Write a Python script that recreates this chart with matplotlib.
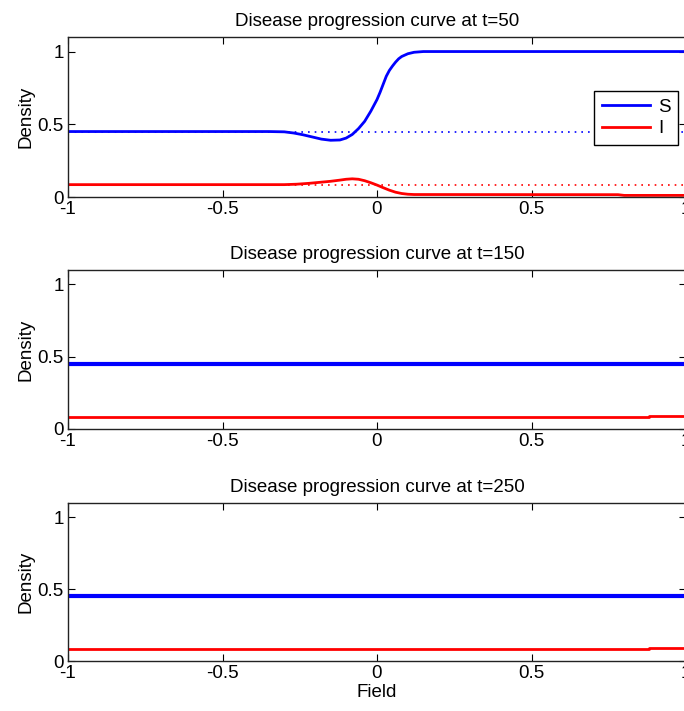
import numpy as np
import matplotlib
matplotlib.use('Agg')
import matplotlib.pyplot as plt

plt.rcParams['font.family'] = ['Liberation Sans', 'DejaVu Sans']
plt.rcParams['font.size'] = 13

# t=50 profile
x50_S = [-1, -0.35, -0.3, -0.27, -0.24, -0.21, -0.18, -0.15, -0.12, -0.1,
         -0.08, -0.06, -0.04, -0.02, 0, 0.01, 0.02, 0.03, 0.04, 0.05, 0.06,
         0.07, 0.08, 0.1, 0.12, 0.15, 1]
S50 = [0.45, 0.45, 0.448, 0.44, 0.428, 0.413, 0.398, 0.39, 0.392, 0.405,
       0.43, 0.47, 0.52, 0.59, 0.67, 0.72, 0.775, 0.83, 0.87, 0.9, 0.927,
       0.95, 0.966, 0.985, 0.995, 1.0, 1.0]
x50_I = [-1, -0.3, -0.26, -0.22, -0.18, -0.15, -0.12, -0.1, -0.08, -0.06,
         -0.04, -0.02, 0, 0.02, 0.04, 0.06, 0.08, 0.1, 0.12, 0.78, 0.8, 1]
I50 = [0.085, 0.085, 0.088, 0.094, 0.102, 0.108, 0.116, 0.122, 0.125, 0.122,
       0.112, 0.098, 0.082, 0.064, 0.047, 0.033, 0.024, 0.019, 0.017, 0.016,
       0.011, 0.011]

# t=150 and t=250 are flat
x_flat = [-1, 0.88, 0.88, 1]
S_flat = [0.45, 0.45, 0.45, 0.45]
I_flat = [0.082, 0.082, 0.09, 0.09]

S_eq = 0.45
I_eq = 0.085

times = [50, 150, 250]

fig = plt.figure(figsize=(6.84, 7.11), dpi=100)
left = 68/684
width = 618/684
boxes = [(37, 197), (270, 429), (503, 661)]

axs = []
for (top, bot) in boxes:
    ax = fig.add_axes([left, 1-bot/711, width, (bot-top)/711])
    axs.append(ax)

for i, ax in enumerate(axs):
    if i == 0:
        ax.plot([-1, 1], [S_eq, S_eq], color='blue', lw=1.2, linestyle=(0, (1, 3)))
        ax.plot([-1, 1], [I_eq, I_eq], color='red', lw=1.2, linestyle=(0, (1, 3)))
        ax.plot(x50_S, S50, color='blue', lw=2, label='S')
        ax.plot(x50_I, I50, color='red', lw=2, label='I')
        leg = ax.legend(loc='upper right', bbox_to_anchor=(0.987, 0.6625),
                        borderaxespad=0, fancybox=False, framealpha=1,
                        edgecolor='black', handlelength=2.6, fontsize=13.5,
                        borderpad=0.4, labelspacing=0.25, handletextpad=0.4)
        leg.get_frame().set_linewidth(1)
    else:
        ax.plot(x_flat, S_flat, color='blue', lw=3)
        ax.plot(x_flat, I_flat, color='red', lw=2)
    ax.set_xlim(-1, 1)
    ax.set_ylim(0, 1.1)
    ax.set_xticks([-1, -0.5, 0, 0.5, 1])
    ax.set_xticklabels(['-1', '-0.5', '0', '0.5', '1'])
    ax.set_yticks([0, 0.5, 1])
    ax.set_yticklabels(['0', '0.5', '1'])
    ax.tick_params(direction='in', top=True, right=True, length=5, width=0.8,
                   labelsize=13.5, pad=3)
    for sp in ax.spines.values():
        sp.set_linewidth(1)
        sp.set_color('#222222')
    ax.set_title('Disease progression curve at t=%d' % times[i], fontsize=13.5, pad=8)
    ax.set_ylabel('Density', fontsize=13.5, labelpad=2)

axs[2].set_xlabel('Field', fontsize=13.5, labelpad=1)

fig.savefig('out.png', dpi=100)
